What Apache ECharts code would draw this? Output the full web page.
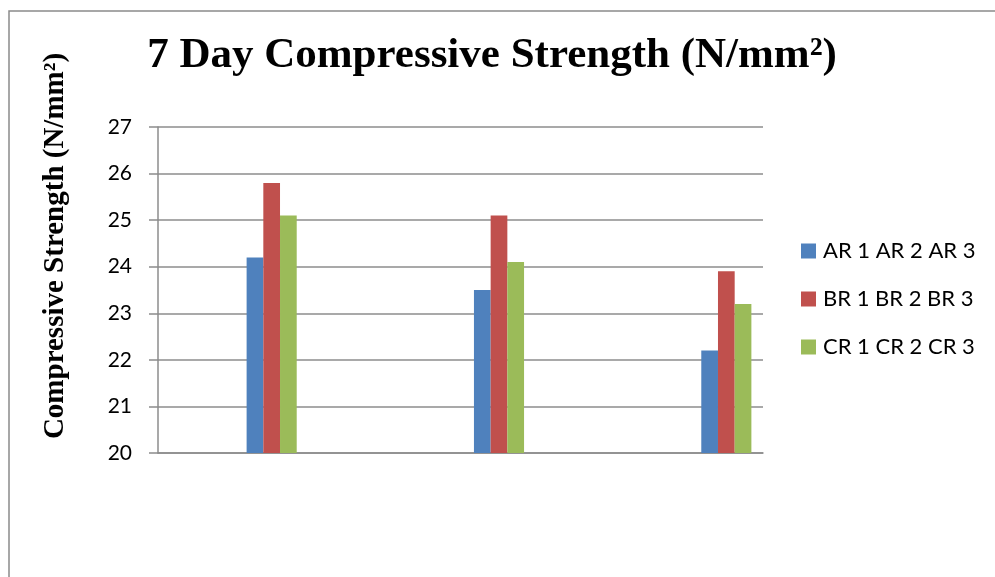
<!DOCTYPE html>
<html>
<head>
<meta charset="utf-8">
<style>
  html, body { margin: 0; padding: 0; background: #fff; }
  #chart { width: 995px; height: 577px; }
</style>
<script src="https://cdn.jsdelivr.net/npm/echarts@6/dist/echarts.min.js"></script>
</head>
<body>
<div id="chart"></div>
<script>
// Three mixes, three replicate series each
const categories = ['Mix 1', 'Mix 2', 'Mix 3'];
const seriesNames = ['AR 1 AR 2 AR 3', 'BR 1 BR 2 BR 3', 'CR 1 CR 2 CR 3'];
const arValues = [24.2, 23.5, 22.2];
const brValues = [25.8, 25.1, 23.9];
const crValues = [25.1, 24.1, 23.2];
const yTicks = { min: 20, max: 27, interval: 1 };
const colors = ['#4F81BD', '#C0504D', '#9BBB59'];

const chart = echarts.init(document.getElementById('chart'), null, { renderer: 'canvas' });

const gridLine = '#8c8c8c';
const sansFont = 'Lato, "Open Sans", sans-serif';
const serifFont = '"Liberation Serif", "Times New Roman", serif';

chart.setOption({
  animation: false,
  backgroundColor: '#ffffff',
  color: colors,
  title: {
    text: '7 Day Compressive Strength (N/mm\u00B2)',
    left: 487,
    textAlign: 'center',
    top: 29,
    textStyle: { fontFamily: serifFont, fontWeight: 'bold', fontSize: 43, color: '#000' }
  },
  legend: {
    orient: 'vertical',
    left: 796,
    top: 235,
    itemWidth: 15,
    itemHeight: 15,
    itemGap: 26,
    icon: 'rect',
    data: seriesNames,
    textStyle: { fontFamily: sansFont, fontSize: 22, color: '#000', padding: [0, 0, 0, 2] }
  },
  graphic: [{
    type: 'rect',
    shape: { x: 9, y: 11, width: 1100, height: 700 },
    style: { fill: 'none', stroke: '#8a8a8a', lineWidth: 1.5 },
    silent: true
  }, {
    type: 'text',
    rotation: Math.PI / 2,
    x: 56,
    y: 246,
    style: {
      text: 'Compressive Strength (N/mm\u00B2)',
      fontFamily: serifFont,
      fontWeight: 'bold',
      fontSize: 29,
      fill: '#000',
      align: 'center',
      verticalAlign: 'middle'
    }
  }],
  grid: [
    // frame with the value axis and gridlines
    { left: 158, top: 127, width: 605, height: 326 },
    // band where the bars sit
    { left: 158, top: 127, width: 682, height: 326 }
  ],
  xAxis: [{
    gridIndex: 0,
    type: 'category',
    data: categories,
    axisLine: { show: true, lineStyle: { color: gridLine, width: 1.5 } },
    axisTick: { show: false },
    axisLabel: { show: false }
  }, {
    gridIndex: 1,
    type: 'category',
    data: categories,
    show: false
  }],
  yAxis: [{
    gridIndex: 0,
    type: 'value',
    min: yTicks.min,
    max: yTicks.max,
    interval: yTicks.interval,
    axisLine: { show: true, lineStyle: { color: gridLine, width: 1.5 } },
    axisTick: { show: true, length: 9, lineStyle: { color: gridLine, width: 1.5 } },
    splitLine: { show: true, lineStyle: { color: gridLine, width: 1.5 } },
    axisLabel: { fontFamily: sansFont, fontSize: 21, color: '#000', margin: 26 }
  }, {
    gridIndex: 1,
    type: 'value',
    min: yTicks.min,
    max: yTicks.max,
    interval: yTicks.interval,
    show: false,
    splitLine: { show: false }
  }],
  series: [arValues, brValues, crValues].map((vals, i) => ({
    name: seriesNames[i],
    type: 'bar',
    xAxisIndex: 1,
    yAxisIndex: 1,
    data: vals,
    barWidth: 16.7,
    barGap: '0%',
    itemStyle: { color: colors[i] }
  }))
});
</script>
</body>
</html>
